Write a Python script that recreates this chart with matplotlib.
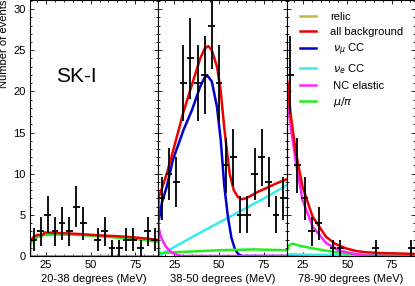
import numpy as np
import matplotlib
matplotlib.use('Agg')
import matplotlib.pyplot as plt
from matplotlib.ticker import MultipleLocator

plt.rcParams['font.family'] = ['Liberation Sans', 'DejaVu Sans']
plt.rcParams['mathtext.fontset'] = 'dejavusans'

# observed events per 4 MeV bin, 16-88 MeV
bin_centers = np.arange(18, 88, 4)
counts_20_38 = [2, 3, 5, 3, 4, 3, 6, 4, 0, 2, 3, 1, 1, 2, 2, 1, 3, 2]
counts_38_50 = [7, 10, 9, 21, 24, 21, 22, 28, 21, 11, 12, 5, 5, 10, 12, 9, 5, 7]
counts_78_90 = [22, 11, 7, 3, 4, 0, 1, 1, 0, 0, 0, 0, 1, 0, 0, 0, 0, 1]

# 20-38 degrees fits
bg1_x = [16, 16.1, 18, 20, 23.5, 24, 30, 37, 45, 55, 65, 74, 80, 88]
bg1_y = [0, 1.85, 2.3, 2.55, 2.6, 2.85, 2.8, 2.75, 2.65, 2.5, 2.4, 2.27, 2.15, 1.95]
mupi1_x = [16, 18, 20, 24, 30, 40, 55, 70, 80, 88]
mupi1_y = [1.5, 2.0, 2.3, 2.55, 2.6, 2.6, 2.4, 2.15, 1.95, 1.7]
nc1_x = [16, 88]
nc1_y = [0, 0]

# 38-50 degrees fits
bg2_x = [16, 16.1, 16.6, 18, 20.7, 23.3, 25.4, 30.1, 34.8, 39.5, 42, 44, 46, 48.9,
         51, 53, 56, 58.3, 60.5, 62.5, 65, 67.7, 71.9, 77, 82, 87.7, 88]
bg2_y = [0, 7.3, 7.4, 8.2, 10.0, 12.0, 13.7, 17.5, 20.8, 24.0, 25.2, 25.5, 25.0, 23.0,
         20.0, 15.5, 10.0, 8.0, 7.2, 6.9, 7.0, 7.3, 7.8, 8.3, 8.8, 9.3, 9.3]
numu2_x = [16.3, 18, 20.7, 24.2, 30.1, 34.8, 39.5, 42, 43.6, 46, 48.9, 51, 53, 55, 57, 59, 61, 63, 88]
numu2_y = [4.4, 6.5, 8.4, 11.7, 15.3, 17.7, 20.6, 21.7, 21.9, 21.2, 18.1, 14.1, 8.5, 4.8, 2.2, 0.8, 0.2, 0, 0]
nue2_x = [16, 18, 20, 30, 40, 53, 65, 77, 88]
nue2_y = [0, 0.15, 0.5, 1.7, 2.9, 4.4, 5.8, 7.2, 8.6]
nc2_x = [16, 17, 18.5, 20, 22, 24, 27, 30, 88]
nc2_y = [3.6, 2.6, 1.8, 1.2, 0.7, 0.35, 0.1, 0, 0]
mupi2_x = [16, 20, 30, 40, 50, 60, 70, 80, 88]
mupi2_y = [0.35, 0.4, 0.5, 0.6, 0.7, 0.75, 0.8, 0.75, 0.7]

# 78-90 degrees fits
bg3_x = [16, 16.1, 16.6, 18.4, 21.2, 24.9, 30.5, 38, 43, 49.2, 55, 60.4, 70, 80, 88]
bg3_y = [0, 21.5, 20.6, 16.9, 12.5, 8.4, 4.8, 2.35, 1.5, 0.93, 0.6, 0.45, 0.35, 0.3, 0.25]
nc3_x = [16, 16.1, 16.6, 18.4, 21.2, 24.9, 30.5, 38, 45.5, 52.9, 60, 88]
nc3_y = [0, 19.8, 19.0, 15.5, 11.3, 6.8, 3.6, 1.6, 0.65, 0.3, 0.05, 0]
mupi3_x = [16, 17.5, 19.4, 23.1, 30.5, 38, 49.2, 60.4, 75, 88]
mupi3_y = [0.5, 1.34, 1.5, 1.25, 0.93, 0.65, 0.3, 0.1, 0.05, 0.03]
nue3_x = [16, 30, 50, 88]
nue3_y = [0.2, 0.15, 0.1, 0.05]
numu3_x = [16, 88]
numu3_y = [0.02, 0]

c_relic = '#bcbc3c'
c_bg = '#ee0000'
c_numu = '#0000cc'
c_nue = '#33eeee'
c_nc = '#ff22ff'
c_mupi = '#22ee22'

fig = plt.figure(figsize=(4.15, 2.86), dpi=100)
W, H = 415.0, 286.0
left, pw = 30.0, 128.35
bottom, top = 256.0, 0.0

panels = [
    ('20-38 degrees (MeV)', counts_20_38,
     [(nc1_x, nc1_y, c_nc), (mupi1_x, mupi1_y, c_mupi), (bg1_x, bg1_y, c_bg)]),
    ('38-50 degrees (MeV)', counts_38_50,
     [(nue2_x, nue2_y, c_nue), (numu2_x, numu2_y, c_numu), (mupi2_x, mupi2_y, c_mupi),
      (nc2_x, nc2_y, c_nc), (bg2_x, bg2_y, c_bg)]),
    ('78-90 degrees (MeV)', counts_78_90,
     [(numu3_x, numu3_y, c_numu), (nue3_x, nue3_y, c_nue), (mupi3_x, mupi3_y, c_mupi),
      (nc3_x, nc3_y, c_nc), (bg3_x, bg3_y, c_bg)]),
]

axes = []
for i, (label, counts, curves) in enumerate(panels):
    ax = fig.add_axes([(left + i * pw) / W, 1 - bottom / H, pw / W, (bottom - top) / H])
    for cx, cy, col in curves:
        ax.plot(cx, cy, color=col, lw=1.8, solid_joinstyle='round')
    n = np.array(counts, dtype=float)
    m = n > 0
    ax.errorbar(bin_centers[m], n[m], yerr=np.sqrt(n[m]), xerr=1.9, fmt='none',
                ecolor='black', elinewidth=1.3, capsize=0, zorder=5)
    ax.set_xlim(16, 88)
    ax.set_ylim(0, 31.1)
    ax.set_xticks([25, 50, 75])
    ax.xaxis.set_minor_locator(MultipleLocator(5))
    ax.set_yticks(range(0, 31, 5))
    ax.yaxis.set_minor_locator(MultipleLocator(1))
    ax.tick_params(which='both', direction='in', top=True, right=True, labelsize=8, pad=3)
    ax.tick_params(which='major', length=3, width=0.6)
    ax.tick_params(which='minor', length=1.5, width=0.6)
    if i > 0:
        ax.tick_params(labelleft=False)
    for s in ax.spines.values():
        s.set_linewidth(0.8)
    ax.set_xlabel(label, fontsize=8, labelpad=3)
    axes.append(ax)

axes[0].set_ylabel('Number of events', fontsize=8, loc='top', labelpad=3)
axes[0].text(0.36, 0.7, 'SK-I', transform=axes[0].transAxes, fontsize=15,
             ha='center', va='center')

# legend
ax3 = axes[2]
names = ['relic', 'all background', ' $\\nu_\\mu$ CC', ' $\\nu_e$ CC', ' NC elastic', ' $\\mu/\\pi$']
cols = [c_relic, c_bg, c_numu, c_nue, c_nc, c_mupi]
handles = [plt.Line2D([], [], color=c, lw=1.8) for c in cols]
ax3.legend(handles, names, loc='upper left', bbox_to_anchor=(0.1, 0.952), frameon=False,
           fontsize=8, handlelength=1.45, handletextpad=1.3, labelspacing=0.41,
           borderpad=0, borderaxespad=0)

fig.savefig('out.png', dpi=100)
